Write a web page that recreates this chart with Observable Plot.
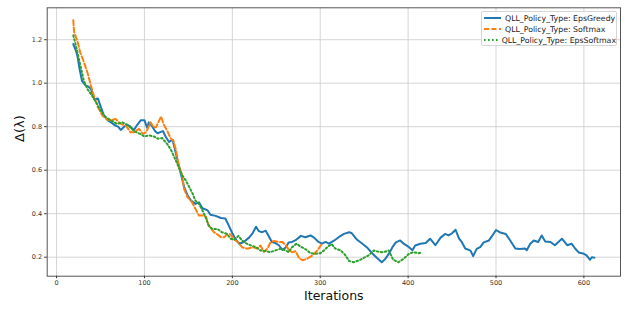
<!DOCTYPE html>
<html>
<head>
<meta charset="utf-8">
<script src="https://cdn.jsdelivr.net/npm/d3@7"></script>
<script src="https://cdn.jsdelivr.net/npm/@observablehq/plot@0.6"></script>
<style>
  html, body { margin: 0; padding: 0; background: #fff; }
  #wrap { position: relative; width: 627px; height: 310px; font-family: "DejaVu Sans", sans-serif; }
  #legend { position: absolute; left: 481px; top: 11px; width: 136px; height: 35px; box-sizing: border-box;
    background: rgba(255,255,255,0.85); border: 1px solid #d6d6d6; border-radius: 2px; padding: 0.5px 0 0 1px; }
  .row { display: flex; align-items: center; height: 11px; font-size: 7.8px; color: #222; white-space: nowrap; }
  .row svg { margin-right: 3px; }
</style>
</head>
<body>
<div id="wrap"><div id="chart"></div><div id="legend"></div></div>
<script>
const seriesNames = ["QLL_Policy_Type: EpsGreedy", "QLL_Policy_Type: Softmax", "QLL_Policy_Type: EpsSoftmax"];
const seriesColors = ["#1f77b4", "#ff7f0e", "#2ca02c"];
const seriesDash = [null, "5,2.5", "1.6,2.4"];
const xTicks = [0, 100, 200, 300, 400, 500, 600];
const yTicks = [0.2, 0.4, 0.6, 0.8, 1.0, 1.2];

const greedyX = [19,22,24,26,29,33,36,39,43,47,50,54,58,62,67,70,73,77,80,84,88,92,96,100,103,105,109,112,115,118,121,124,128,132,135,138,141,145,149,153,158,162,166,172,175,181,187,192,196,200,204,208,213,219,223,227,230,234,238,241,245,249,253,257,261,264,268,272,278,283,289,293,298,302,306,310,316,321,327,333,336,342,348,353,359,365,370,374,378,382,386,391,395,401,405,408,414,420,425,431,437,442,446,450,454,458,461,465,471,474,478,482,486,492,496,500,504,511,516,522,527,533,535,539,543,548,552,556,562,567,571,575,581,586,590,594,600,603,607,609,612];
const greedyY = [1.18,1.15,1.12,1.07,1.01,0.99,0.985,0.975,0.925,0.93,0.895,0.85,0.83,0.82,0.805,0.8,0.785,0.8,0.81,0.8,0.785,0.81,0.83,0.83,0.795,0.82,0.8,0.78,0.77,0.775,0.78,0.755,0.73,0.74,0.69,0.64,0.59,0.525,0.485,0.46,0.445,0.452,0.425,0.415,0.395,0.39,0.38,0.378,0.345,0.31,0.28,0.262,0.27,0.29,0.31,0.34,0.32,0.315,0.322,0.3,0.27,0.265,0.255,0.233,0.246,0.268,0.27,0.278,0.298,0.292,0.3,0.29,0.27,0.262,0.27,0.262,0.277,0.292,0.307,0.315,0.31,0.28,0.262,0.246,0.218,0.195,0.177,0.192,0.215,0.245,0.268,0.277,0.262,0.246,0.232,0.254,0.262,0.265,0.285,0.255,0.29,0.307,0.3,0.31,0.326,0.285,0.27,0.24,0.23,0.205,0.238,0.246,0.268,0.277,0.3,0.325,0.315,0.307,0.278,0.24,0.238,0.24,0.232,0.262,0.277,0.27,0.3,0.272,0.27,0.255,0.27,0.285,0.255,0.262,0.24,0.222,0.216,0.208,0.188,0.2,0.198];

const softmaxX = [19,20,24,27,30,35,39,43,47,52,58,63,67,73,79,84,88,94,98,102,107,110,113,117,119,122,126,130,133,136,139,143,145,149,153,156,162,166,170,173,179,183,187,191,194,198,201,206,211,217,223,228,232,236,240,243,247,253,257,261,264,268,272,276,280,285,291,297,302];
const softmaxY = [1.29,1.235,1.19,1.14,1.11,1.05,0.99,0.935,0.89,0.852,0.832,0.83,0.836,0.813,0.805,0.775,0.775,0.79,0.767,0.775,0.82,0.8,0.797,0.83,0.847,0.81,0.78,0.745,0.735,0.69,0.622,0.576,0.515,0.476,0.46,0.438,0.392,0.392,0.386,0.346,0.315,0.305,0.292,0.292,0.305,0.305,0.285,0.27,0.246,0.239,0.246,0.24,0.254,0.224,0.24,0.265,0.275,0.27,0.27,0.254,0.235,0.223,0.228,0.195,0.186,0.193,0.208,0.232,0.262];

const epsSoftmaxX = [19,22,25,28,31,35,39,45,50,56,62,69,75,82,88,95,100,105,111,115,120,126,130,134,139,143,147,151,155,158,162,166,170,173,177,183,188,194,198,202,207,211,215,221,227,232,238,243,249,255,261,264,268,273,278,284,289,295,300,304,309,313,317,323,328,333,338,344,350,355,361,367,372,378,383,389,395,401,406,412,415];
const epsSoftmaxY = [1.22,1.173,1.12,1.066,1.012,0.974,0.951,0.913,0.874,0.844,0.829,0.813,0.82,0.805,0.78,0.767,0.755,0.76,0.755,0.745,0.748,0.72,0.695,0.66,0.614,0.576,0.553,0.522,0.491,0.46,0.445,0.415,0.38,0.346,0.33,0.33,0.315,0.307,0.285,0.28,0.298,0.277,0.265,0.254,0.246,0.231,0.228,0.223,0.231,0.239,0.231,0.223,0.246,0.262,0.248,0.235,0.218,0.216,0.218,0.23,0.25,0.26,0.24,0.232,0.212,0.182,0.177,0.185,0.198,0.208,0.231,0.224,0.223,0.231,0.188,0.177,0.193,0.216,0.223,0.218,0.222];

const seriesX = [greedyX, softmaxX, epsSoftmaxX];
const seriesY = [greedyY, softmaxY, epsSoftmaxY];

const lineMarks = seriesNames.map((name, i) => {
  const rows = seriesX[i].map((x, j) => ({x, y: seriesY[i][j]}));
  const opts = {x: "x", y: "y", stroke: seriesColors[i], strokeWidth: 2, strokeLinejoin: "round"};
  if (seriesDash[i]) opts.strokeDasharray = seriesDash[i];
  return Plot.line(rows, opts);
});

const chart = Plot.plot({
  width: 627,
  height: 310,
  marginLeft: 46.7,
  marginRight: 7,
  marginTop: 7.3,
  marginBottom: 34.3,
  style: {fontFamily: "DejaVu Sans, sans-serif", background: "#fff"},
  x: {domain: [-10.65, 641.65]},
  y: {domain: [0.1126, 1.3467]},
  marks: [
    Plot.gridX(xTicks, {stroke: "#d0d0d0", strokeOpacity: 1, strokeWidth: 0.9}),
    Plot.gridY(yTicks, {stroke: "#d0d0d0", strokeOpacity: 1, strokeWidth: 0.9}),
    ...lineMarks,
    Plot.frame({stroke: "#555", strokeWidth: 1}),
    Plot.axisX(xTicks, {label: null, tickSize: 2.5, tickPadding: 2, fontSize: 6.5, color: "#333", tickFormat: d => String(d)}),
    Plot.axisY(yTicks, {label: null, tickSize: 2.5, tickPadding: 2.5, fontSize: 6.5, color: "#333", tickFormat: d => d.toFixed(1)}),
    Plot.text(["Iterations"], {frameAnchor: "bottom", dy: 24, fontSize: 12.5, fill: "#111"}),
    Plot.text(["Δ(λ)"], {frameAnchor: "left", dx: -27, rotate: -90, fontSize: 13, fill: "#111"})
  ]
});
document.getElementById("chart").appendChild(chart);

const legend = document.getElementById("legend");
seriesNames.forEach((name, i) => {
  const row = document.createElement("div");
  row.className = "row";
  const dash = seriesDash[i] ? ` stroke-dasharray="${seriesDash[i]}"` : "";
  row.innerHTML = `<svg width="19" height="6"><line x1="1" y1="3" x2="18" y2="3" stroke="${seriesColors[i]}" stroke-width="2"${dash}/></svg><span>${name}</span>`;
  legend.appendChild(row);
});
</script>
</body>
</html>
